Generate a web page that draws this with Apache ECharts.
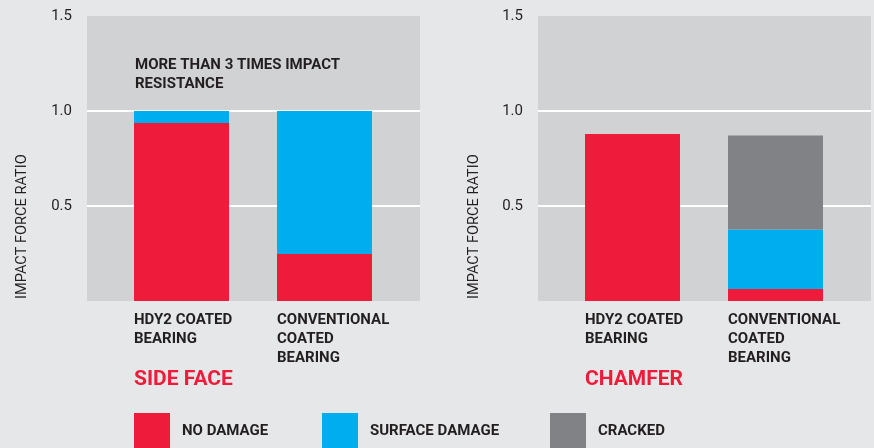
<!DOCTYPE html>
<html>
<head>
<meta charset="utf-8">
<script src="https://cdn.jsdelivr.net/npm/echarts@6/dist/echarts.min.js"></script>
<style>
html,body{margin:0;padding:0;background:#E6E7E9;}
#c{width:874px;height:448px;}
</style>
</head>
<body>
<div id="c"></div>
<script>
const categories = ['HDY2 COATED\nBEARING', 'CONVENTIONAL\nCOATED\nBEARING'];
const seriesNames = ['NO DAMAGE', 'SURFACE DAMAGE', 'CRACKED'];
const sideNoDamage = [0.937, 0.247];
const sideSurface = [0.063, 0.753];
const chamferNoDamage = [0.879, 0.063];
const chamferSurface = [0, 0.313];
const chamferCracked = [0, 0.495];
const yTicks = [0, 0.5, 1.0, 1.5];
const panelTitles = ['SIDE FACE', 'CHAMFER'];
const annotation = 'MORE THAN 3 TIMES IMPACT\nRESISTANCE';
const yName = 'IMPACT FORCE RATIO';

const RED = '#EE1B3B', BLUE = '#00AEEF', GRAY = '#818286', TXT = '#231F20';
const FONT = 'Roboto';

function bgYAxis(gi) {
  return {
    type: 'value', gridIndex: gi, min: yTicks[0], max: yTicks[yTicks.length - 1], interval: 0.5,
    axisLine: {show: false}, axisTick: {show: false},
    axisLabel: {margin: 15, color: TXT, fontFamily: FONT, fontSize: 15,
      formatter: v => v === 0 ? '' : v.toFixed(1)},
    splitLine: {show: true, showMinLine: false, showMaxLine: false, lineStyle: {color: '#FFFFFF', width: 2}}
  };
}
function barYAxis(gi, off) {
  return {
    type: 'value', gridIndex: gi, min: yTicks[0], max: yTicks[yTicks.length - 1], interval: 0.5,
    offset: off,
    axisLine: {show: false}, axisTick: {show: false}, axisLabel: {show: false}, splitLine: {show: false},
    name: yName, nameLocation: 'start', nameGap: -2, nameRotate: 90,
    nameTextStyle: {align: 'left', verticalAlign: 'middle', color: TXT, fontFamily: FONT, fontSize: 14.6}
  };
}
function catXAxis(gi) {
  return {
    type: 'category', gridIndex: gi, data: categories,
    axisLine: {show: false}, axisTick: {show: false},
    axisLabel: {
      margin: 10, interval: 0,
      formatter: v => v.split('\n').map(s => '{a|' + s + '}').join('\n'),
      rich: {a: {width: 95, align: 'left', color: TXT, fontFamily: FONT, fontWeight: 'bold', fontSize: 15, lineHeight: 19}}
    }
  };
}
function bgXAxis(gi) {
  return {type: 'value', gridIndex: gi, show: false, min: 0, max: 1};
}
function legendFor(name, left) {
  return {
    data: [name], left: left, top: 413, padding: 0, itemWidth: 36, itemHeight: 36, icon: 'rect',
    selectedMode: false,
    textStyle: {color: TXT, fontFamily: FONT, fontWeight: 'bold', fontSize: 15, padding: [0, 0, 0, 7]}
  };
}
function bar(name, data, color, xi, stack) {
  return {name: name, type: 'bar', data: data, xAxisIndex: xi, yAxisIndex: xi, stack: stack,
    barWidth: 95, itemStyle: {color: color}, emphasis: {disabled: true}, z: 3};
}

const option = {
  backgroundColor: '#E6E7E9',
  animation: false,
  title: [
    {text: panelTitles[0], left: 134, top: 369, padding: 0, textStyle: {color: RED, fontFamily: FONT, fontWeight: 'bold', fontSize: 21}},
    {text: panelTitles[1], left: 585, top: 369, padding: 0, textStyle: {color: RED, fontFamily: FONT, fontWeight: 'bold', fontSize: 21}},
    {text: annotation, left: 135, top: 56, padding: 0, textStyle: {color: TXT, fontFamily: FONT, fontWeight: 'bold', fontSize: 15, lineHeight: 19}}
  ],
  grid: [
    {left: 87, width: 333, top: 16, height: 285, show: true, backgroundColor: '#D1D2D4', borderWidth: 0},
    {left: 110, width: 286, top: 16, height: 285},
    {left: 538, width: 333, top: 16, height: 285, show: true, backgroundColor: '#D1D2D4', borderWidth: 0},
    {left: 561, width: 286, top: 16, height: 285}
  ],
  xAxis: [bgXAxis(0), catXAxis(1), bgXAxis(2), catXAxis(3)],
  yAxis: [bgYAxis(0), barYAxis(1, 88), bgYAxis(2), barYAxis(3, 87)],
  legend: [legendFor(seriesNames[0], 134), legendFor(seriesNames[1], 322), legendFor(seriesNames[2], 550)],
  series: [
    bar(seriesNames[0], sideNoDamage, RED, 1, 'side'),
    bar(seriesNames[1], sideSurface, BLUE, 1, 'side'),
    bar(seriesNames[0], chamferNoDamage, RED, 3, 'chamfer'),
    bar(seriesNames[1], chamferSurface, BLUE, 3, 'chamfer'),
    bar(seriesNames[2], chamferCracked, GRAY, 3, 'chamfer')
  ]
};
const chart = echarts.init(document.getElementById('c'), null, {renderer: 'canvas'});
chart.setOption(option);
</script>
</body>
</html>
